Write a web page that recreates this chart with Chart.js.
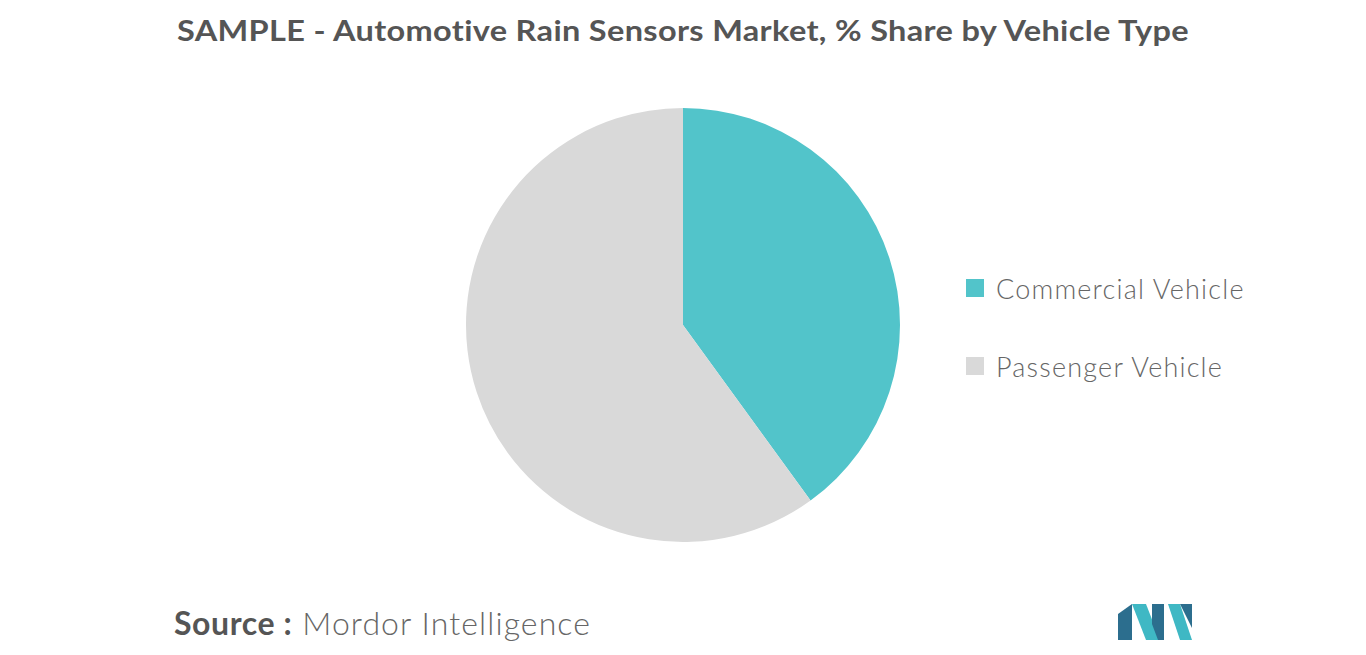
<!DOCTYPE html>
<html>
<head>
<meta charset="UTF-8">
<script src="https://cdn.jsdelivr.net/npm/chart.js"></script>
<style>
  body { margin: 0; width: 1366px; height: 655px; background: #fff; font-family: Lato, sans-serif; position: relative; overflow: hidden; }
  #title { position: absolute; top: 12px; left: 0; width: 1366px; text-align: center; font-size: 29px; font-weight: bold; color: #555; letter-spacing: 0.3px; transform: scaleX(1.12); }
  #pieBox { position: absolute; left: 462px; top: 104px; width: 442px; height: 442px; }
  #legend { position: absolute; left: 966px; top: 270px; }
  .item { display: flex; align-items: center; font-size: 27px; color: #666; height: 36px; margin-bottom: 42px; letter-spacing: 1.2px; font-weight: 300; }
  .sw { width: 18px; height: 18px; margin-right: 12px; }
  #source { position: absolute; left: 174px; top: 603px; font-size: 32px; color: #666; font-weight: 300; letter-spacing: 1.1px; }
  #source b { color: #555; font-weight: bold; letter-spacing: 0.6px; }
  #logo { position: absolute; left: 1118px; top: 604px; }
</style>
</head>
<body>
<div id="title">SAMPLE - Automotive Rain Sensors Market, % Share by Vehicle Type</div>
<div id="pieBox"><canvas id="pie"></canvas></div>
<div id="legend"></div>
<div id="source"><b>Source :</b> Mordor Intelligence</div>
<svg id="logo" width="74" height="36" viewBox="0 0 74 36">
  <polygon points="0,36 0,10 14,0 14,36" fill="#2c6e8e"/>
  <polygon points="14,0 28,0 42,36 28,36" fill="#3fb8c4"/>
  <polygon points="34,0 46,0 46,36 40,36 34,20" fill="#2c6e8e"/>
  <polygon points="50,0 62,0 74,36 62,36" fill="#3fb8c4"/>
  <polygon points="62,0 74,0 74,24" fill="#2c6e8e"/>
</svg>
<script>
var categories = ['Commercial Vehicle', 'Passenger Vehicle'];
var shares = [40, 60];
var colors = ['#52c4ca', '#d9d9d9'];

new Chart(document.getElementById('pie'), {
  type: 'pie',
  data: {
    labels: categories,
    datasets: [{ data: shares, backgroundColor: colors, borderWidth: 0 }]
  },
  options: {
    responsive: true,
    maintainAspectRatio: false,
    animation: false,
    layout: { padding: 4 },
    plugins: { legend: { display: false }, tooltip: { enabled: false } }
  }
});

var legend = document.getElementById('legend');
categories.forEach(function (c, i) {
  var d = document.createElement('div');
  d.className = 'item';
  d.innerHTML = '<span class="sw" style="background:' + colors[i] + '"></span>' + c;
  legend.appendChild(d);
});
</script>
</body>
</html>
